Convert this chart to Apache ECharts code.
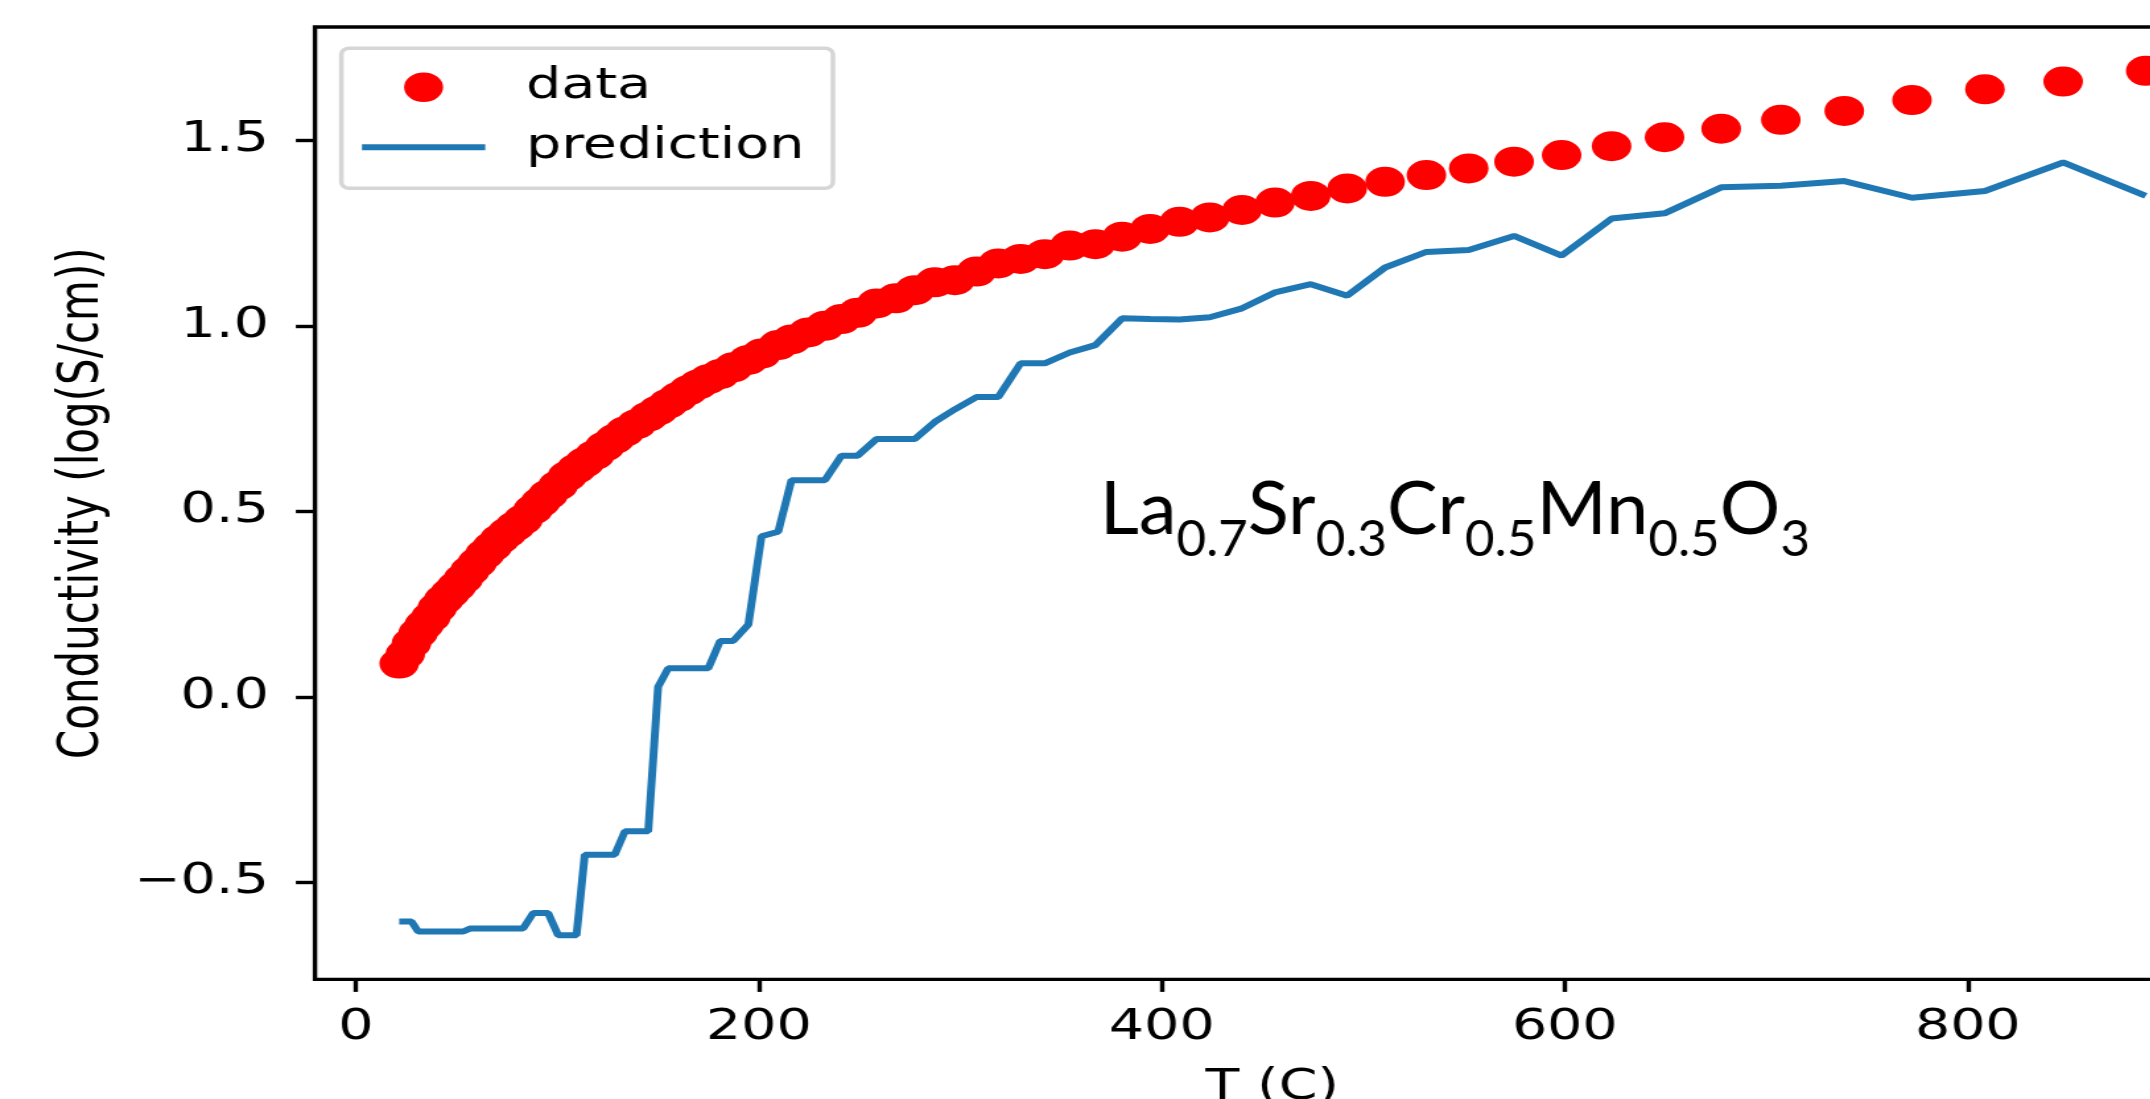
<!DOCTYPE html>
<html>
<head>
<meta charset="utf-8">
<title>Conductivity vs T</title>
<script src="https://cdn.jsdelivr.net/npm/echarts@6/dist/echarts.min.js"></script>
<style>
  html, body {
    margin: 0;
    padding: 0;
    background: #fff;
    overflow: hidden;
    width: 2150px;
    height: 1099px;
  }
  /* the reference figure is stretched sideways, so stretch the whole canvas too */
  #chart {
    width: 1720px;
    height: 1140px;
    transform: scaleX(1.32);
    transform-origin: 0 0;
  }
</style>
</head>
<body>
<div id="chart"></div>
<script>
// temperature (C) of each measurement
const temps = [21.5, 24.5, 27.6, 30.9, 34.0, 37.2, 40.4, 43.6, 46.8, 50.0,
  53.3, 56.6, 60.3, 64.0, 67.7, 71.4, 75.2, 79.1, 83.0, 88.0,
  91.7, 95.4, 100.4, 105.0, 109.5, 113.6, 118.6, 123.6, 128.5, 133.5,
  139.3, 145.1, 150.0, 155.0, 160.0, 165.0, 170.0, 174.9, 180.8, 187.3,
  194.8, 201.3, 209.6, 216.2, 224.5, 232.8, 241.0, 249.0, 258.4, 268.0,
  277.4, 287.3, 297.3, 308.0, 318.8, 329.9, 341.9, 354.3, 367.0, 380.3,
  394.2, 408.8, 423.8, 439.8, 456.2, 473.9, 492.0, 510.8, 531.3, 552.3,
  574.8, 598.4, 623.2, 649.5, 677.6, 707.2, 738.7, 772.3, 808.5, 847.3, 888.3];

// measured conductivity, log(S/cm)
const measured = [0.090, 0.115, 0.145, 0.172, 0.195, 0.215, 0.240, 0.262, 0.280, 0.298,
  0.318, 0.340, 0.362, 0.385, 0.405, 0.425, 0.443, 0.460, 0.478, 0.505,
  0.525, 0.545, 0.570, 0.595, 0.615, 0.632, 0.652, 0.675, 0.695, 0.715,
  0.735, 0.755, 0.772, 0.790, 0.808, 0.826, 0.842, 0.856, 0.870, 0.888,
  0.908, 0.925, 0.948, 0.963, 0.982, 1.000, 1.018, 1.035, 1.060, 1.074,
  1.096, 1.117, 1.123, 1.146, 1.168, 1.180, 1.193, 1.216, 1.220, 1.240,
  1.261, 1.280, 1.292, 1.312, 1.332, 1.350, 1.370, 1.388, 1.406, 1.424,
  1.442, 1.460, 1.484, 1.508, 1.531, 1.555, 1.579, 1.608, 1.637, 1.658, 1.687];

// model prediction at the same temperatures
const predicted = [-0.605, -0.605, -0.605, -0.632, -0.632, -0.632, -0.632, -0.632, -0.632, -0.632,
  -0.632, -0.624, -0.624, -0.624, -0.624, -0.624, -0.624, -0.624, -0.624, -0.582,
  -0.582, -0.582, -0.642, -0.642, -0.642, -0.425, -0.425, -0.425, -0.425, -0.362,
  -0.362, -0.362, 0.027, 0.077, 0.077, 0.077, 0.077, 0.077, 0.151, 0.151,
  0.195, 0.433, 0.445, 0.584, 0.584, 0.584, 0.650, 0.650, 0.695, 0.695,
  0.695, 0.741, 0.775, 0.808, 0.808, 0.899, 0.899, 0.928, 0.948, 1.020,
  1.018, 1.017, 1.023, 1.047, 1.090, 1.112, 1.081, 1.157, 1.199, 1.204,
  1.242, 1.189, 1.289, 1.303, 1.373, 1.377, 1.390, 1.345, 1.363, 1.440, 1.350];

const xTicks = [0, 200, 400, 600, 800];
const yTicks = [-0.5, 0.0, 0.5, 1.0, 1.5];

const FONT = 'DejaVu Sans';

const chart = echarts.init(document.getElementById('chart'));

const option = {
  animation: false,
  backgroundColor: '#fff',
  grid: {
    left: 238.6,
    top: 27,
    width: 1450.6,
    height: 952.4,
    show: true,
    borderColor: '#000',
    borderWidth: 3.4,
    backgroundColor: 'transparent'
  },
  legend: {
    left: 258.6,
    top: 48.3,
    orient: 'vertical',
    itemWidth: 93.4,
    itemHeight: 29.5,
    itemGap: 18,
    padding: [18, 21.7, 20, 15.6],
    backgroundColor: '#fff',
    borderColor: '#d6d6d6',
    borderWidth: 3.5,
    borderRadius: 6,
    textStyle: {
      fontFamily: FONT,
      fontSize: 42,
      lineHeight: 42,
      color: '#000',
      padding: [0, 0, 0, 26]
    },
    data: [
      { name: 'data', icon: 'circle' },
      { name: 'prediction', icon: 'path://M0,0 L93.4,0 L93.4,6 L0,6 Z' }
    ]
  },
  xAxis: {
    type: 'value',
    min: -20.3,
    max: 930,
    name: 'T (C)',
    nameLocation: 'middle',
    nameGap: 88,
    nameTextStyle: { fontFamily: FONT, fontSize: 42, color: '#000' },
    axisLine: { show: false, onZero: false },
    axisTick: {
      show: true,
      length: 12.5,
      lineStyle: { color: '#000', width: 3.4 },
      customValues: xTicks
    },
    axisLabel: {
      fontFamily: FONT,
      fontSize: 42,
      color: '#000',
      margin: 28,
      customValues: xTicks,
      formatter: v => String(v)
    },
    splitLine: { show: false }
  },
  yAxis: {
    type: 'value',
    min: -0.761,
    max: 1.805,
    name: 'Conductivity (log(S/cm))',
    nameLocation: 'middle',
    nameGap: 155,
    nameTextStyle: { fontFamily: FONT, fontSize: 42, color: '#000' },
    axisLine: { show: false, onZero: false },
    axisTick: {
      show: true,
      length: 14.5,
      lineStyle: { color: '#000', width: 3.4 },
      customValues: yTicks
    },
    axisLabel: {
      fontFamily: FONT,
      fontSize: 42,
      color: '#000',
      margin: 35,
      customValues: yTicks,
      formatter: v => (v < 0 ? '\u2212' : '') + Math.abs(v).toFixed(1)
    },
    splitLine: { show: false }
  },
  graphic: [
    {
      type: 'text',
      x: 833.3,
      y: 473,
      scaleX: 0.775,
      style: {
        text: '{m|La}{s|0.7}{m|Sr}{s|0.3}{m|Cr}{s|0.5}{m|Mn}{s|0.5}{m|O}{s|3}',
        verticalAlign: 'top',
        rich: {
          m: { fontFamily: 'Lato', fontSize: 74, lineHeight: 74, verticalAlign: 'top', fill: '#000' },
          s: { fontFamily: 'Lato', fontSize: 50, lineHeight: 50, verticalAlign: 'top', padding: [42, 0, 0, 0], fill: '#000' }
        }
      }
    }
  ],
  series: [
    {
      name: 'data',
      type: 'scatter',
      symbol: 'circle',
      symbolSize: 30,
      itemStyle: { color: '#ff0000', opacity: 1 },
      data: temps.map((t, i) => [t, measured[i]]),
      z: 3
    },
    {
      name: 'prediction',
      type: 'line',
      symbol: 'none',
      lineStyle: { color: '#1f77b4', width: 6 },
      itemStyle: { color: '#1f77b4' },
      data: temps.map((t, i) => [t, predicted[i]]),
      z: 2
    }
  ]
};

chart.setOption(option);
</script>
</body>
</html>
